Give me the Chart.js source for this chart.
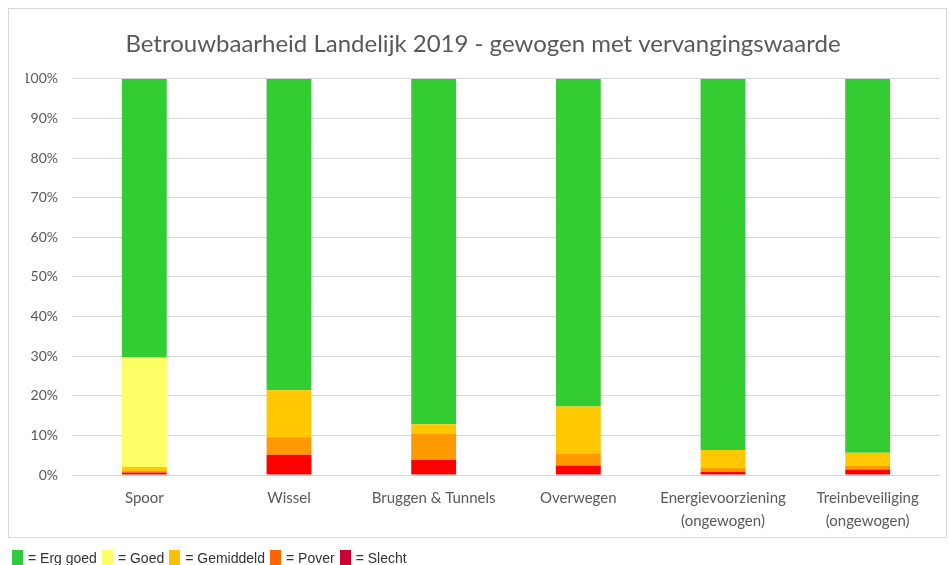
<!DOCTYPE html>
<html>
<head>
<meta charset="utf-8">
<script src="https://cdn.jsdelivr.net/npm/chart.js@4.4.1/dist/chart.umd.min.js"></script>
<style>
  body { margin: 0; background: #fff; }
  .wrap { position: relative; width: 950px; height: 565px; overflow: hidden; }
  .frame { position: absolute; left: 8px; top: 8px; width: 939px; height: 530px; border: 1px solid #d9d9d9; box-sizing: border-box; }
  canvas { position: absolute; left: 0; top: 0; }
  .legend { position: absolute; left: 12px; top: 550px; display: flex; font-family: "Liberation Sans", Arial, sans-serif; font-size: 14px; color: #333; line-height: 16px; }
  .legend span.sw { display: inline-block; width: 11px; height: 16px; margin-right: 5px; vertical-align: top; }
  .legend .item { margin-right: 5px; white-space: nowrap; }
</style>
</head>
<body>
<div class="wrap">
  <div class="frame"></div>
  <canvas id="chart" width="950" height="565"></canvas>
  <div class="legend" id="legend"></div>
</div>
<script>
// Data
const categories = ['Spoor', 'Wissel', 'Bruggen & Tunnels', 'Overwegen',
  ['Energievoorziening', '(ongewogen)'], ['Treinbeveiliging', '(ongewogen)']];

const slecht    = [0.6, 5.1, 3.8, 2.4, 0.8, 1.4];
const pover     = [0.4, 4.4, 6.7, 3.0, 1.0, 1.0];
const gemiddeld = [1.0, 11.9, 2.3, 11.9, 4.5, 3.2];
const goed      = [27.8, 0, 0, 0, 0, 0];
const ergGoed   = [70.2, 78.6, 87.2, 82.7, 93.7, 94.4];

const yTicks = [0, 10, 20, 30, 40, 50, 60, 70, 80, 90, 100];

// legend entries (colours as in the picture's legend)
const legendNames = ['Erg goed', 'Goed', 'Gemiddeld', 'Pover', 'Slecht'];
const legendColors = ['#2ecc40', '#ffff66', '#ffc000', '#ff6600', '#cc0033'];

const font = 'Lato, "Open Sans", sans-serif';
const grey = '#595959';

const ctx = document.getElementById('chart').getContext('2d');

const chart = new Chart(ctx, {
  type: 'bar',
  data: {
    labels: categories,
    datasets: [
      { label: 'Slecht', data: slecht, backgroundColor: '#ff0000' },
      { label: 'Pover', data: pover, backgroundColor: '#ff9900' },
      { label: 'Gemiddeld', data: gemiddeld, backgroundColor: '#ffc800' },
      { label: 'Goed', data: goed, backgroundColor: '#ffff66' },
      { label: 'Erg goed', data: ergGoed, backgroundColor: '#33cc33' }
    ]
  },
  options: {
    responsive: false,
    animation: false,
    datasets: {
      bar: { barPercentage: 0.31, categoryPercentage: 1, borderWidth: 0 }
    },
    // left padding a bit larger so the title centre sits where it does in the picture
    layout: { padding: { left: 26, right: 10, top: 0, bottom: 10 } },
    scales: {
      x: {
        stacked: true,
        grid: { display: false },
        border: { display: false },
        ticks: { color: grey, font: { family: font, size: 15, lineHeight: 1.5 }, padding: 4, maxRotation: 0 },
        afterFit: function (scale) { scale.height = 80; }
      },
      y: {
        stacked: true,
        min: 0,
        max: 100,
        afterBuildTicks: function (scale) { scale.ticks = yTicks.map(v => ({ value: v })); },
        grid: { color: '#d9d9d9', drawTicks: false },
        border: { display: false },
        ticks: {
          color: grey,
          font: { family: font, size: 14 },
          padding: 14,
          callback: v => v + '%'
        },
        afterFit: function (scale) { scale.width = 46; }
      }
    },
    plugins: {
      legend: { display: false },
      tooltip: { enabled: false },
      title: {
        display: true,
        text: 'Betrouwbaarheid Landelijk 2019 - gewogen met vervangingswaarde',
        color: grey,
        font: { family: font, size: 24, weight: 'normal' },
        padding: { top: 30, bottom: 20 }
      }
    }
  }
});

// HTML legend under the chart frame
const legendEl = document.getElementById('legend');
legendNames.forEach((name, i) => {
  const item = document.createElement('div');
  item.className = 'item';
  item.innerHTML = '<span class="sw" style="background:' + legendColors[i] + '"></span>= ' + name;
  legendEl.appendChild(item);
});
</script>
</body>
</html>
